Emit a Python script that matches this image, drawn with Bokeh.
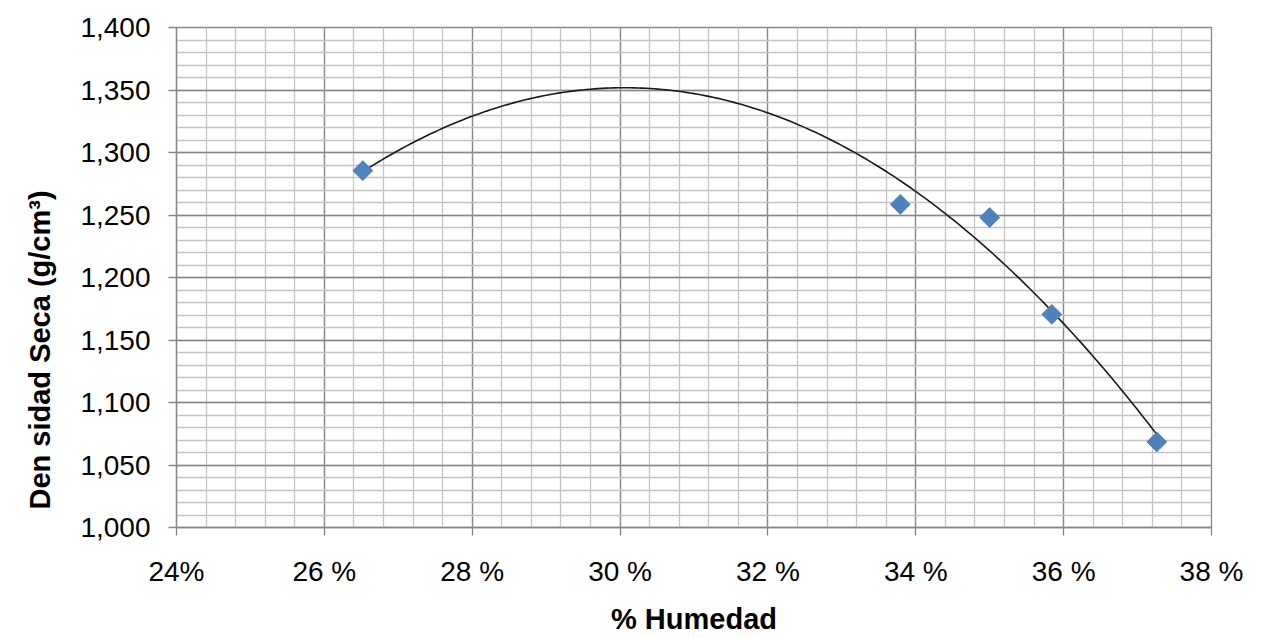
import numpy as np
from bokeh.plotting import figure
from bokeh.models import SingleIntervalTicker, ColumnDataSource, Title
from bokeh.embed import file_html
from bokeh.resources import INLINE

# Data
humedad = [26.52, 33.79, 35.00, 35.84, 37.26]      # % moisture
densidad = [1285.5, 1258.5, 1248.0, 1170.5, 1068.5]  # dry density

x_ticks = [24, 26, 28, 30, 32, 34, 36, 38]
x_tick_labels = ["24%", "26 %", "28 %", "30 %", "32 %", "34 %", "36 %", "38 %"]
y_ticks = [1000, 1050, 1100, 1150, 1200, 1250, 1300, 1350, 1400]
y_tick_labels = ["1,000", "1,050", "1,100", "1,150", "1,200", "1,250", "1,300", "1,350", "1,400"]
x_title = "% Humedad"
y_title = "Den sidad Seca (g/cm³)"

# polynomial trend line (fitted to the data, like the spreadsheet trendline)
coef = np.polyfit(humedad, densidad, 2)
xf = np.linspace(min(humedad), max(humedad), 200)
yf = np.polyval(coef, xf)

FONT = "Liberation Sans"
MAJOR = "#878787"
MINOR = "#c4c4c4"

p = figure(width=1265, height=638, x_range=(24, 38), y_range=(1000, 1400),
           output_backend="svg", toolbar_location=None,
           min_border_left=176, min_border_right=54, min_border_top=27, min_border_bottom=111)
p.background_fill_color = "white"
p.border_fill_color = "white"
p.outline_line_color = MAJOR
p.outline_line_width = 1.3

p.xaxis.ticker = SingleIntervalTicker(interval=2, num_minor_ticks=5)
p.yaxis.ticker = SingleIntervalTicker(interval=50, num_minor_ticks=5)
p.xaxis.major_label_overrides = dict(zip(x_ticks, x_tick_labels))
p.yaxis.major_label_overrides = dict(zip(y_ticks, y_tick_labels))

for g in (p.xgrid, p.ygrid):
    g.grid_line_color = MAJOR
    g.grid_line_width = 1.3
    g.minor_grid_line_color = MINOR
    g.minor_grid_line_width = 1.3

for ax in (p.xaxis, p.yaxis):
    ax.axis_line_color = MAJOR
    ax.axis_line_width = 1.3
    ax.major_tick_line_color = MAJOR
    ax.major_tick_line_width = 1.3
    ax.major_tick_out = 8
    ax.major_tick_in = 0
    ax.minor_tick_out = 0
    ax.minor_tick_in = 0
    ax.major_label_text_font = FONT
    ax.major_label_text_font_size = "28px"
    ax.major_label_text_color = "black"
    ax.axis_label_text_font = FONT
    ax.axis_label_text_font_size = "29px"
    ax.axis_label_text_font_style = "bold"
    ax.axis_label_text_color = "black"

p.xaxis.axis_label = x_title
p.xaxis.major_label_standoff = 20
p.xaxis.axis_label_standoff = 13
p.yaxis.major_label_standoff = 18

ytitle = Title(text=y_title, align="left", offset=18,
               text_font=FONT, text_font_size="29px", text_font_style="bold",
               text_color="black", standoff=43)
p.add_layout(ytitle, "left")

p.line(xf, yf, line_color="#1a1a1a", line_width=1.6)
src = ColumnDataSource(dict(x=humedad, y=densidad))
p.scatter("x", "y", source=src, marker="square", size=14, angle=np.pi / 4,
          fill_color="#4F81BD", line_color="#4F81BD", line_width=1)

open("out.html", "w").write(file_html(p, INLINE))
